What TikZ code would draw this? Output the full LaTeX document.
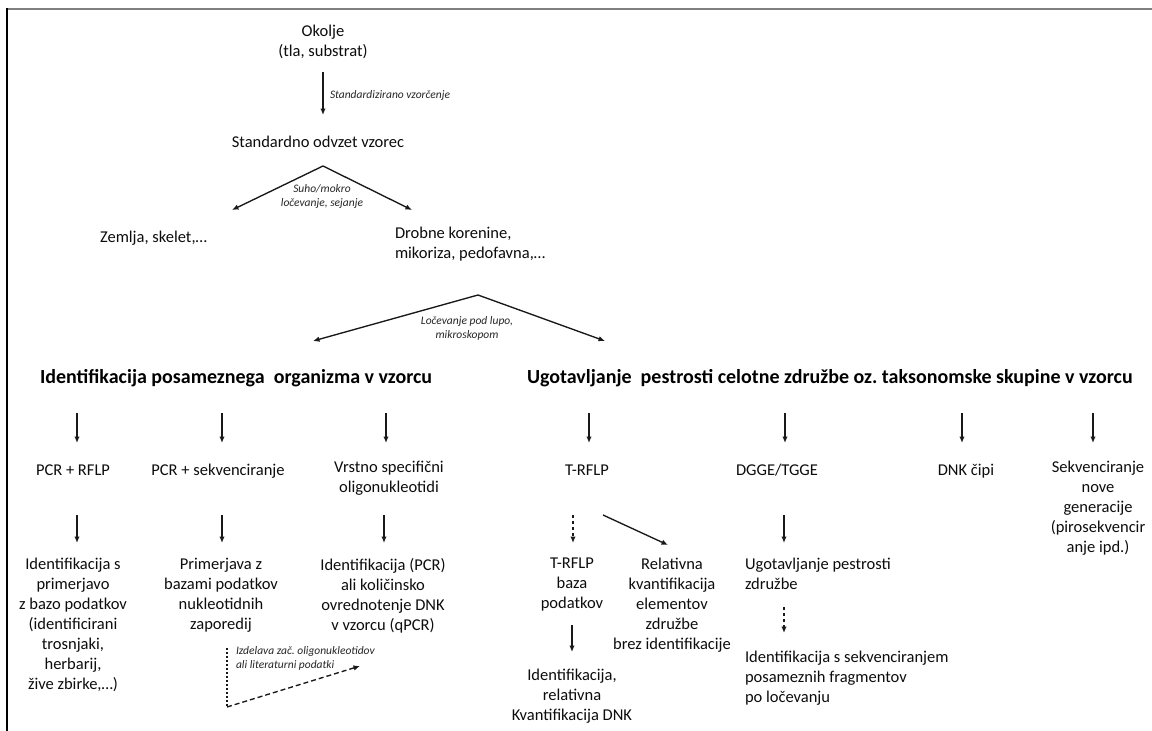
\documentclass[tikz,border=0pt]{standalone}
\usepackage{fontspec}
\setmainfont{Carlito}
\usetikzlibrary{arrows.meta,calc}
\begin{document}
\frenchspacing
\begin{tikzpicture}[x=1pt,y=1pt,
  txt/.style={inner sep=0pt, outer sep=0pt, align=center, text=black!95,
    font=\fontsize{16.5}{20}\selectfont,
    execute at begin node=\strut, execute at end node=\strut},
  lft/.style={txt, align=left},
  lbl/.style={inner sep=0pt, outer sep=0pt, align=center, text=black!85,
    font=\itshape\fontsize{11.5}{14.5}\selectfont,
    execute at begin node=\strut, execute at end node=\strut},
  head/.style={inner sep=0pt, outer sep=0pt, text=black,
    font=\bfseries\fontsize{20}{24}\selectfont},
  arr/.style={line width=1.35pt, draw=black!90, -{Latex[length=6.5pt,width=5.5pt]}},
  dsh/.style={arr, dash pattern=on 3pt off 3pt},
  dot/.style={line width=1.35pt, draw=black!90, dash pattern=on 2pt off 2pt},
]
\useasboundingbox[fill=white] (0,0) rectangle (1152,-731);
% frame
\draw[line width=2pt, draw=black!50] (7,-9) -- (1152,-9);
\draw[line width=1.4pt, draw=black] (7,-8) -- (7,-731);

% top
\node[txt, anchor=north] (okolje) at (323,-25) {Okolje\\(tla, substrat)};
\node[txt, anchor=north] (stand) at (318,-133) {Standardno odvzet vzorec};
\node[lbl, anchor=north west] (lstd) at (330,-88.5) {Standardizirano vzorčenje};
\coordinate (t0) at (323,-72);
\draw[arr, shorten >=18pt] (t0) -- (t0 |- stand.north);

% first split
\coordinate (apex1) at (323,-166);
\coordinate (tipL1) at (232,-210);
\coordinate (tipR1) at (412,-210);
\draw[arr] (apex1) -- (tipL1);
\draw[arr] (apex1) -- (tipR1);
\node[lbl, anchor=north] (lsuho) at (322,-184.5) {Suho/mokro\\ločevanje, sejanje};
\node[txt, anchor=north east] (zemlja) at (207,-228) {Zemlja, skelet,…};
\node[lft, anchor=north west] (drobne) at (395,-227) {Drobne korenine,\\mikoriza, pedofavna,…};

% second split
\coordinate (apex2) at (478,-295);
\coordinate (tipL2) at (313,-341);
\coordinate (tipR2) at (605,-341);
\draw[arr] (apex2) -- (tipL2);
\draw[arr] (apex2) -- (tipR2);
\node[lbl, anchor=north] (lloc) at (467,-316.5) {Ločevanje pod lupo,\\mikroskopom};

% headings
\node[head, anchor=base west] (head1) at (40,-383) {Identifikacija posameznega\ \ organizma v vzorcu};
\node[head, anchor=base west] (head2) at (527,-383) {Ugotavljanje\ \ pestrosti celotne združbe oz. taksonomske skupine v vzorcu};

% row 1
\node[txt, anchor=north] (pcrrflp) at (73,-461) {PCR + RFLP};
\node[txt, anchor=north] (pcrsek) at (218,-461) {PCR + sekvenciranje};
\node[txt, anchor=north] (vrstno) at (389,-461) {Vrstno specifični\\oligonukleotidi};
\node[txt, anchor=north] (trflp) at (587,-461) {T-RFLP};
\node[txt, anchor=north] (dgge) at (777,-461) {DGGE/TGGE};
\node[txt, anchor=north] (cipi) at (966,-461) {DNK čipi};
\node[txt, anchor=north] (ngs) at (1098,-461) {Sekvenciranje\\nove\\generacije\\(pirosekvencir\\anje ipd.)};

\coordinate (r1a) at (77,-413);
\coordinate (r1b) at (222,-413);
\coordinate (r1c) at (386,-413);
\coordinate (r1d) at (589,-413);
\coordinate (r1e) at (785,-413);
\coordinate (r1f) at (962,-413);
\coordinate (r1g) at (1093,-413);
\draw[arr, shorten >=18pt] (r1a) -- (r1a |- pcrrflp.north);
\draw[arr, shorten >=18pt] (r1b) -- (r1b |- pcrsek.north);
\draw[arr, shorten >=18pt] (r1c) -- (r1c |- vrstno.north);
\draw[arr, shorten >=18pt] (r1d) -- (r1d |- trflp.north);
\draw[arr, shorten >=18pt] (r1e) -- (r1e |- dgge.north);
\draw[arr, shorten >=18pt] (r1f) -- (r1f |- cipi.north);
\draw[arr, shorten >=18pt] (r1g) -- (r1g |- ngs.north);

% row 2
\node[txt, anchor=north] (ids) at (73,-558) {Identifikacija s\\primerjavo\\z bazo podatkov\\(identificirani\\trosnjaki,\\herbarij,\\žive zbirke,…)};
\node[txt, anchor=north] (prim) at (221,-558) {Primerjava z\\bazami podatkov\\nukleotidnih\\zaporedij};
\node[txt, anchor=north] (idpcr) at (383,-558) {Identifikacija (PCR)\\ali količinsko\\ovrednotenje DNK\\v vzorcu (qPCR)};
\node[txt, anchor=north] (trbaza) at (572,-558) {T-RFLP\\baza\\podatkov};
\node[txt, anchor=north] (relat) at (672,-558) {Relativna\\kvantifikacija\\elementov\\združbe\\brez identifikacije};
\node[lft, anchor=north west] (ugot) at (745,-558) {Ugotavljanje pestrosti\\združbe};

\coordinate (r2a) at (77,-515);
\coordinate (r2b) at (222,-515);
\coordinate (r2c) at (384,-515);
\coordinate (r2d) at (573,-515);
\coordinate (r2e) at (784,-515);
\draw[arr, shorten >=15pt] (r2a) -- (r2a |- ids.north);
\draw[arr, shorten >=15pt] (r2b) -- (r2b |- prim.north);
\draw[arr, shorten >=15pt] (r2c) -- (r2c |- idpcr.north);
\draw[dsh, shorten >=15pt] (r2d) -- (r2d |- trbaza.north);
\draw[arr, shorten >=15pt] (r2e) -- (r2e |- ugot.north);
\coordinate (dg1) at (603,-515);
\coordinate (dg2) at (668,-545);
\draw[arr] (dg1) -- (dg2);

% row 3
\node[txt, anchor=north] (idrel) at (572,-669) {Identifikacija,\\relativna\\Kvantifikacija DNK};
\node[lft, anchor=north west] (idsek) at (745,-651) {Identifikacija s sekvenciranjem\\posameznih fragmentov\\po ločevanju};
\coordinate (r3a) at (572,-625);
\coordinate (r3b) at (784,-607);
\draw[arr, shorten >=17pt] (r3a) -- (r3a |- idrel.north);
\draw[dsh, shorten >=18pt] (r3b) -- (r3b |- idsek.north);

% dashed feedback
\node[lbl, align=left, anchor=north west] (lizd) at (236,-646.5) {Izdelava zač. oligonukleotidov\\ali literaturni podatki};
\coordinate (dA) at (227,-648);
\coordinate (dB) at (227,-707);
\coordinate (dC) at (360,-666);
\draw[dot] (dA) -- (dB);
\draw[dsh, dash pattern=on 5pt off 3pt] (dB) -- (dC);
\end{tikzpicture}
\end{document}
